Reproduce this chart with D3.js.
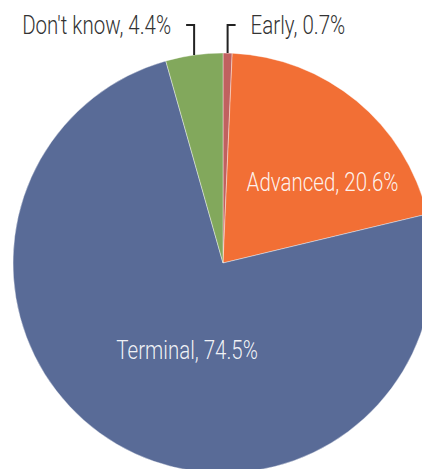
<!DOCTYPE html>
<html><head><meta charset="utf-8">
<script src="https://cdn.jsdelivr.net/npm/d3@7"></script>
<style>html,body{margin:0;padding:0;background:#fff;overflow:hidden}</style>
</head><body>
<svg id="c" width="422" height="469"></svg>
<script>
const categories = ["Early", "Advanced", "Terminal", "Don't know"];
const values = [0.7, 20.6, 74.5, 4.4];
const labels = ["Early, 0.7%", "Advanced, 20.6%", "Terminal, 74.5%", "Don't know, 4.4%"];
const colors = ["#C0615F", "#F26F35", "#596B97", "#82A85C"];

const W = 422, H = 469;
const cx = 223, cy = 263, R = 210;
const FONT = "Roboto, 'Noto Sans', sans-serif";
const SX = 0.82;
const FS = 25;

const svg = d3.select("#c");
const g = svg.append("g").attr("transform", `translate(${cx},${cy})`);

const data = categories.map((c, i) => ({cat: c, value: values[i], label: labels[i], color: colors[i]}));
const pie = d3.pie().sort(null).value(d => d.value);
const arcs = pie(data);
const arc = d3.arc().innerRadius(0).outerRadius(R);

g.selectAll("path").data(arcs).join("path")
  .attr("d", arc)
  .attr("fill", d => d.data.color)
  .attr("stroke", "#fff").attr("stroke-width", 0.4);

// inside labels
const inside = {"Advanced": {r: 0.61, da: 0.2}, "Terminal": {r: 0.45, da: -0.14}};
arcs.filter(d => inside[d.data.cat]).forEach(d => {
  const o = inside[d.data.cat];
  const a = (d.startAngle + d.endAngle) / 2 + o.da;
  const x = Math.sin(a) * R * o.r, y = -Math.cos(a) * R * o.r;
  g.append("text")
    .attr("transform", `translate(${x},${y}) scale(${SX},1)`)
    .attr("text-anchor", "middle").attr("dy", "0.36em")
    .attr("font-family", FONT).attr("font-weight", 300).attr("font-size", FS)
    .attr("fill", "#fff").attr("fill-opacity", 0.92)
    .text(d.data.label);
});

// outside labels with bracket leaders
const leaderY = 25 - cy;
arcs.filter(d => !inside[d.data.cat]).forEach(d => {
  const a = (d.startAngle + d.endAngle) / 2;
  const x0 = Math.sin(a) * R, y0 = -Math.cos(a) * R;
  const side = x0 < 0 ? -1 : 1;
  const x1 = x0 + side * 8;
  g.append("path")
    .attr("d", `M${x0},${y0}V${leaderY}H${x1}`)
    .attr("fill", "none").attr("stroke", "#222").attr("stroke-width", 2);
  g.append("text")
    .attr("transform", `translate(${x1 + side * 15},${leaderY}) scale(${SX},1)`)
    .attr("text-anchor", side < 0 ? "end" : "start").attr("dy", "0.36em")
    .attr("font-family", FONT).attr("font-weight", 300).attr("font-size", FS)
    .attr("fill", "#333")
    .text(d.data.label);
});
</script>
</body></html>
